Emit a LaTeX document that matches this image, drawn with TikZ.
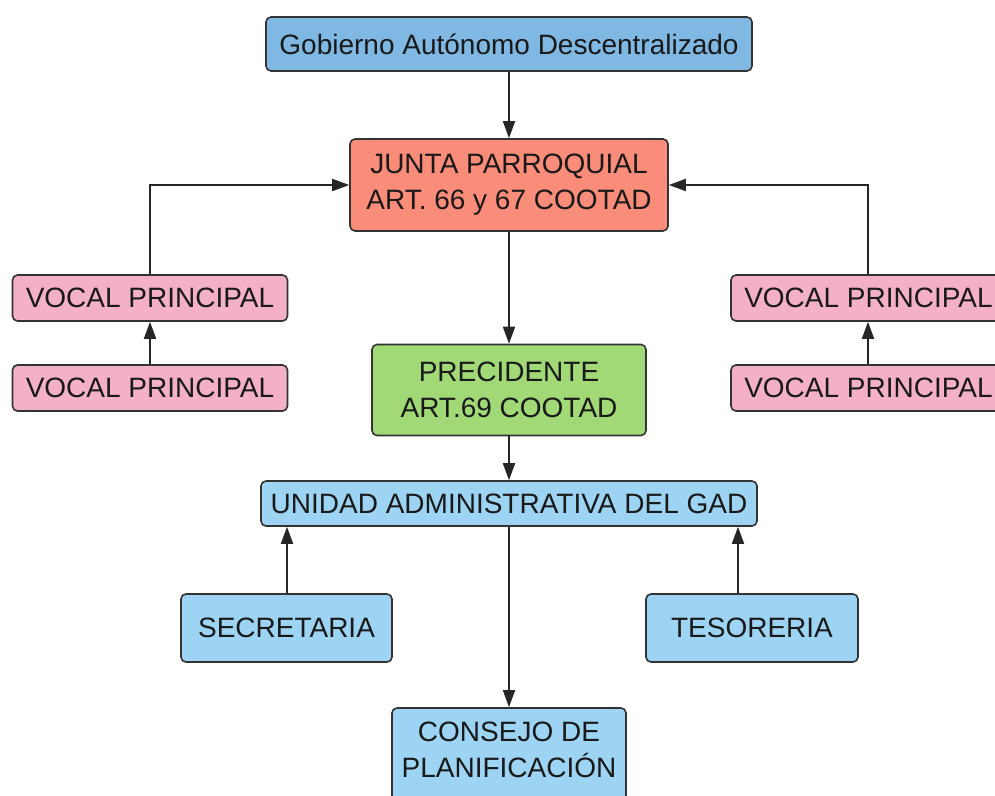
\documentclass[tikz,border=0pt]{standalone}
\usepackage{fontspec}
\setmainfont{Liberation Sans}
\usetikzlibrary{arrows.meta}
\definecolor{gadblue}{HTML}{80B8E4}
\definecolor{juntared}{HTML}{FA8C7A}
\definecolor{vocalpink}{HTML}{F4B1C5}
\definecolor{presgreen}{HTML}{A2D977}
\definecolor{lightblue}{HTML}{9DD4F3}
\definecolor{edgegray}{HTML}{333333}
\begin{document}
\begin{tikzpicture}[x=1pt,y=-1pt,
  box/.style={draw=edgegray,line width=1.6pt,rounded corners=5pt,inner sep=0pt,align=center,
    font=\fontsize{28}{36}\selectfont,text=black!90},
  conn/.style={line width=1.8pt,draw=black!85,-{Triangle[length=17pt,width=12pt]}}]
\useasboundingbox (0,0) rectangle (995,795);
\clip (0,0) rectangle (995,795);
\node[box,fill=gadblue,minimum width=486pt,minimum height=54pt] (gad) at (509,44) {Gobierno Autónomo Descentralizado};
\node[box,fill=juntared,minimum width=318pt,minimum height=92pt] (junta) at (509,185) {JUNTA PARROQUIAL\\ART. 66 y 67 COOTAD};
\node[box,fill=vocalpink,minimum width=275pt,minimum height=46pt] (vl1) at (150,298) {VOCAL PRINCIPAL};
\node[box,fill=vocalpink,minimum width=275pt,minimum height=46pt] (vl2) at (150,388) {VOCAL PRINCIPAL};
\node[box,fill=vocalpink,minimum width=275pt,minimum height=46pt] (vr1) at (868.5,298) {VOCAL PRINCIPAL};
\node[box,fill=vocalpink,minimum width=275pt,minimum height=46pt] (vr2) at (868.5,388) {VOCAL PRINCIPAL};
\node[box,fill=presgreen,minimum width=274pt,minimum height=91pt] (pres) at (509,390) {PRECIDENTE\\ART.69 COOTAD};
\node[box,fill=lightblue,minimum width=496pt,minimum height=45pt] (unidad) at (509,503.5) {UNIDAD ADMINISTRATIVA DEL GAD};
\node[box,fill=lightblue,minimum width=211pt,minimum height=68pt] (sec) at (286.5,628) {SECRETARIA};
\node[box,fill=lightblue,minimum width=212pt,minimum height=68pt] (tes) at (752,628) {TESORERIA};
\node[box,fill=lightblue,minimum width=234pt,minimum height=100pt] (cons) at (509,758) {CONSEJO DE\\PLANIFICACIÓN\\[-20pt]\rule{0pt}{1pt}};
\coordinate (tl) at (150,185);
\coordinate (tr) at (868,185);
\coordinate (sx) at (287,0);
\coordinate (tx) at (738,0);
\draw[conn] (gad) -- (junta);
\draw[conn] (vl1.north) -- (tl) -- (junta.west);
\draw[conn] (vr1.north -| tr) -- (tr) -- (junta.east);
\draw[conn] (vl2) -- (vl1);
\draw[conn] (vr2.north -| tr) -- (vr1.south -| tr);
\draw[conn] (junta) -- (pres);
\draw[conn] (pres) -- (unidad);
\draw[conn] (sec.north -| sx) -- (unidad.south -| sx);
\draw[conn] (tes.north -| tx) -- (unidad.south -| tx);
\draw[conn] (unidad) -- (cons);
\end{tikzpicture}
\end{document}
